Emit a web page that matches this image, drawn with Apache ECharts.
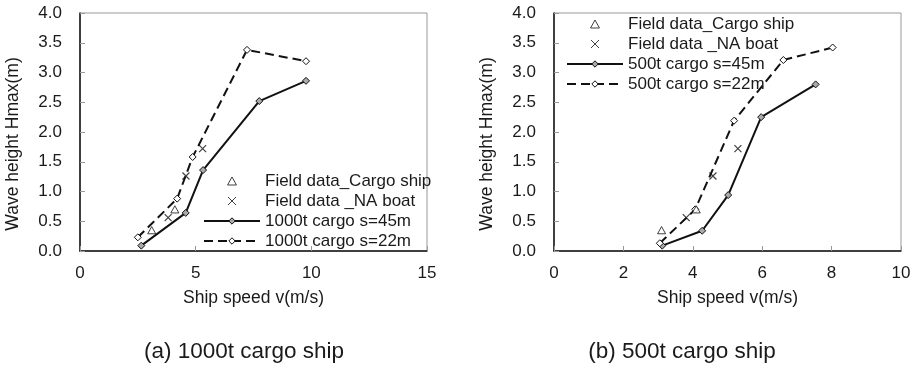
<!DOCTYPE html>
<html>
<head>
<meta charset="utf-8">
<style>
  html, body { margin: 0; padding: 0; background: #fff; }
  #chart { width: 914px; height: 376px; }
</style>
<script src="https://cdn.jsdelivr.net/npm/echarts@6/dist/echarts.min.js"></script>
</head>
<body>
<div id="chart"></div>
<script>
const FONT = "'Liberation Sans', Arial, sans-serif";
const TEXT_COLOR = "#1a1a1a";

// field measurements, same in both panels
const cargoShipX = [3.10, 4.10];
const cargoShipY = [0.35, 0.70];
const naBoatX = [3.81, 4.58, 5.30];
const naBoatY = [0.56, 1.26, 1.72];

// (a) 1000t cargo ship
const cargo1000S45X = [2.65, 4.57, 5.32, 7.75, 9.77];
const cargo1000S45Y = [0.09, 0.64, 1.36, 2.52, 2.86];
const cargo1000S22X = [2.50, 4.20, 4.87, 7.22, 9.77];
const cargo1000S22Y = [0.23, 0.88, 1.58, 3.38, 3.19];

// (b) 500t cargo ship
const cargo500S45X = [3.12, 4.27, 5.02, 5.97, 7.54];
const cargo500S45Y = [0.09, 0.34, 0.94, 2.25, 2.80];
const cargo500S22X = [3.05, 4.07, 5.19, 6.61, 8.03];
const cargo500S22Y = [0.13, 0.70, 2.19, 3.21, 3.42];

const panelTitles = ["(a) 1000t cargo ship", "(b) 500t cargo ship"];
const xAxisMax = [15, 10];
const xAxisStep = [5, 2];
const legendNamesA = ["Field data_Cargo ship", "Field data _NA boat", "1000t cargo s=45m", "1000t cargo s=22m"];
const legendNamesB = ["Field data_Cargo ship", "Field data _NA boat", "500t cargo s=45m", "500t cargo s=22m"];

const toPairs = (xs, ys) => xs.map((x, i) => [x, ys[i]]);

// path symbols keep their aspect in the legend, built-in ones get stretched
const TRIANGLE = "path://M5,0L10,9L0,9Z";
const CROSS = "path://M0,0L10,10M10,0L0,10";

function fieldSeries(idx) {
  return [
    {
      name: "Field data_Cargo ship",
      type: "scatter",
      xAxisIndex: idx,
      yAxisIndex: idx,
      symbol: TRIANGLE,
      symbolSize: 8,
      symbolKeepAspect: true,
      itemStyle: { color: "#fff", borderColor: "#111", borderWidth: 1 },
      data: toPairs(cargoShipX, cargoShipY),
      z: 5,
    },
    {
      name: "Field data _NA boat",
      type: "scatter",
      xAxisIndex: idx,
      yAxisIndex: idx,
      symbol: CROSS,
      symbolSize: 7,
      symbolKeepAspect: true,
      itemStyle: { color: "none", borderColor: "#111", borderWidth: 1.2 },
      data: toPairs(naBoatX, naBoatY),
      z: 5,
    },
  ];
}

function lineSeries(idx, name, xs, ys, dashed) {
  return {
    name: name,
    type: "line",
    xAxisIndex: idx,
    yAxisIndex: idx,
    symbol: "diamond",
    symbolSize: 7,
    showAllSymbol: true,
    lineStyle: { color: "#111", width: 2, type: dashed ? [9, 5] : "solid" },
    itemStyle: { color: dashed ? "#fff" : "#aaa", borderColor: "#111", borderWidth: 1 },
    data: toPairs(xs, ys),
  };
}

function makeXAxis(idx) {
  return {
    type: "value",
    gridIndex: idx,
    min: 0,
    max: xAxisMax[idx],
    interval: xAxisStep[idx],
    name: "Ship speed v(m/s)",
    nameLocation: "middle",
    nameGap: 38,
    nameTextStyle: { fontFamily: FONT, fontSize: 17.5, color: TEXT_COLOR },
    axisLine: { lineStyle: { color: "#111", width: 1.5 } },
    axisTick: { inside: true, length: 5, lineStyle: { color: "#999" } },
    axisLabel: { fontFamily: FONT, fontSize: 17, color: TEXT_COLOR, margin: 14 },
    splitLine: { show: false },
  };
}

function makeYAxis(idx) {
  return {
    type: "value",
    gridIndex: idx,
    min: 0,
    max: 4,
    interval: 0.5,
    name: "Wave height Hmax(m)",
    nameLocation: "middle",
    nameGap: 58,
    nameTextStyle: { fontFamily: FONT, fontSize: 17.5, color: TEXT_COLOR, padding: [0, 24, 0, 0] },
    axisLine: { show: true, lineStyle: { color: "#111", width: 1.5 } },
    axisTick: { show: true, inside: true, length: 5, lineStyle: { color: "#999" } },
    axisLabel: {
      fontFamily: FONT,
      fontSize: 17,
      color: TEXT_COLOR,
      margin: 18,
      formatter: (v) => v.toFixed(1),
    },
    splitLine: { show: false },
  };
}

function makeLegend(names, left, top) {
  return {
    data: names,
    orient: "vertical",
    left: left,
    top: top,
    padding: 0,
    itemWidth: 56,
    itemHeight: 8,
    itemGap: 0,
    selectedMode: false,
    symbolKeepAspect: true,
    itemStyle: { borderWidth: 1 },
    textStyle: { fontFamily: FONT, fontSize: 17, color: TEXT_COLOR, lineHeight: 20 },
  };
}

const chartElement = document.getElementById("chart");
const chart = echarts.init(chartElement, null, { renderer: "canvas" });

const option = {
  animation: false,
  backgroundColor: "#fff",
  grid: [
    { left: 80, top: 13, width: 347, height: 238, show: true, borderColor: "#999", borderWidth: 1 },
    { left: 554, top: 13, width: 347, height: 238, show: true, borderColor: "#999", borderWidth: 1 },
  ],
  xAxis: [makeXAxis(0), makeXAxis(1)],
  yAxis: [makeYAxis(0), makeYAxis(1)],
  legend: [makeLegend(legendNamesA, 203, 171), makeLegend(legendNamesB, 566, 14)],
  series: [
    ...fieldSeries(0),
    lineSeries(0, legendNamesA[2], cargo1000S45X, cargo1000S45Y, false),
    lineSeries(0, legendNamesA[3], cargo1000S22X, cargo1000S22Y, true),
    ...fieldSeries(1),
    lineSeries(1, legendNamesB[2], cargo500S45X, cargo500S45Y, false),
    lineSeries(1, legendNamesB[3], cargo500S22X, cargo500S22Y, true),
  ],
  graphic: [
    {
      type: "text",
      x: 244,
      y: 352,
      style: {
        text: panelTitles[0],
        align: "center",
        verticalAlign: "middle",
        font: "22.5px 'Liberation Sans', Arial, sans-serif",
        fill: TEXT_COLOR,
      },
    },
    {
      type: "text",
      x: 682,
      y: 352,
      style: {
        text: panelTitles[1],
        align: "center",
        verticalAlign: "middle",
        font: "22.5px 'Liberation Sans', Arial, sans-serif",
        fill: TEXT_COLOR,
      },
    },
  ],
};

chart.setOption(option);
</script>
</body>
</html>
